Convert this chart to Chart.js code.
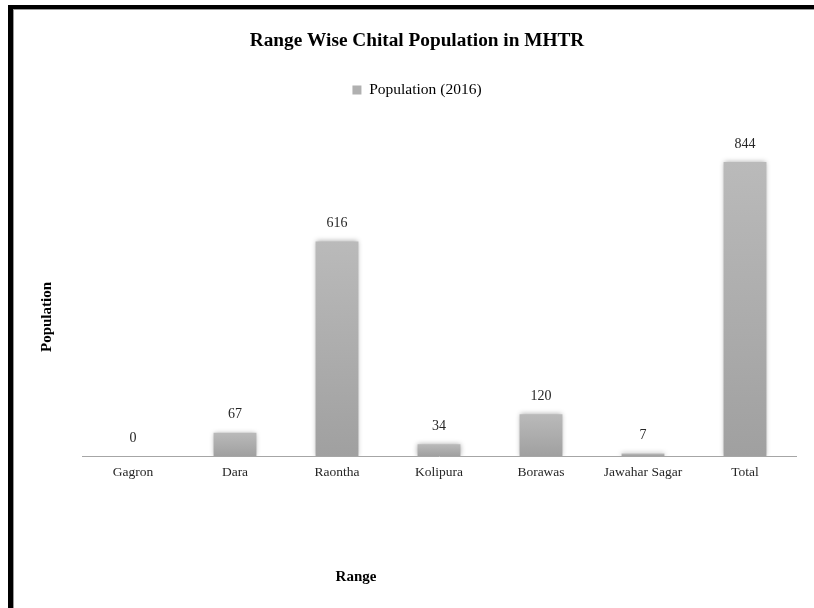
<!DOCTYPE html>
<html>
<head>
<meta charset="utf-8">
<script src="https://cdn.jsdelivr.net/npm/chart.js@4.4.1/dist/chart.umd.min.js"></script>
<style>
  html, body { margin: 0; padding: 0; background: #fff; }
  #wrap { position: relative; width: 814px; height: 608px; }
</style>
</head>
<body>
<div id="wrap"><canvas id="chart" width="814" height="608"></canvas></div>
<script>
const ranges = ["Gagron", "Dara", "Raontha", "Kolipura", "Borawas", "Jawahar Sagar", "Total"];
const population2016 = [0, 67, 616, 34, 120, 7, 844];
const seriesLabel = "Population (2016)";
const chartTitle = "Range Wise Chital Population in MHTR";
const xTitle = "Range";
const yTitle = "Population";

const SERIF = "'Liberation Serif', 'Times New Roman', serif";

function barGradient(context) {
  const chart = context.chart;
  const area = chart.chartArea;
  if (!area || context.type !== "data") return "#adadad";
  const yScale = chart.scales.y;
  const top = yScale.getPixelForValue(context.raw);
  const bottom = yScale.getPixelForValue(0);
  if (bottom - top < 1) return "#adadad";
  const g = chart.ctx.createLinearGradient(0, top, 0, bottom);
  g.addColorStop(0, "#bababa");
  g.addColorStop(1, "#a0a0a0");
  return g;
}

// soft shadow around the bars
const barShadow = {
  id: "barShadow",
  beforeDatasetsDraw(chart) {
    const c = chart.ctx;
    c.save();
    c.shadowColor = "rgba(0,0,0,0.35)";
    c.shadowBlur = 5;
  },
  afterDatasetsDraw(chart) {
    chart.ctx.restore();
  },
};

// value labels over the bars
const valueLabels = {
  id: "valueLabels",
  afterDatasetsDraw(chart) {
    const c = chart.ctx;
    const meta = chart.getDatasetMeta(0);
    c.save();
    c.font = "14px " + SERIF;
    c.fillStyle = "#262626";
    c.textAlign = "center";
    c.textBaseline = "middle";
    meta.data.forEach((bar, i) => {
      c.fillText(String(population2016[i]), bar.x, bar.y - 18);
    });
    c.restore();
  },
};

// axis titles and the page frame
const frameAndTitles = {
  id: "frameAndTitles",
  afterDraw(chart) {
    const c = chart.ctx;
    c.save();
    c.fillStyle = "#000";
    c.font = "bold 15px " + SERIF;
    c.textAlign = "center";
    c.textBaseline = "middle";
    c.fillText(xTitle, 356, 577);
    c.translate(47, 317);
    c.rotate(-Math.PI / 2);
    c.fillText(yTitle, 0, 0);
    c.restore();

    c.save();
    c.fillStyle = "#000";
    c.fillRect(8, 5, 5, 603);
    c.fillRect(8, 5, 806, 4);
    c.fillStyle = "#9a9a9a";
    c.fillRect(13, 9, 1, 599);
    c.fillRect(13, 9, 801, 1);
    c.restore();
  },
};

new Chart(document.getElementById("chart"), {
  type: "bar",
  data: {
    labels: ranges,
    datasets: [{
      label: seriesLabel,
      data: population2016,
      backgroundColor: barGradient,
      borderWidth: 0,
      barPercentage: 0.42,
      categoryPercentage: 1,
    }],
  },
  options: {
    responsive: false,
    animation: false,
    layout: { padding: { left: 38, right: 18, top: 0, bottom: 0 } },
    plugins: {
      title: {
        display: true,
        text: chartTitle,
        color: "#000",
        font: { family: SERIF, size: 19.3, weight: "bold" },
        padding: { top: 29, bottom: 20 },
      },
      legend: {
        display: true,
        labels: {
          font: { family: SERIF, size: 15.5 },
          color: "#262626",
          boxWidth: 9,
          boxHeight: 9,
          padding: 10,
          generateLabels: () => [{
            text: seriesLabel,
            fillStyle: "#b0b0b0",
            strokeStyle: "#b0b0b0",
            lineWidth: 0,
            datasetIndex: 0,
          }],
        },
      },
      tooltip: { enabled: false },
    },
    scales: {
      x: {
        grid: { display: false, drawTicks: false },
        border: { display: true, color: "#a6a6a6", width: 1 },
        ticks: {
          color: "#262626",
          font: { family: SERIF, size: 13.5 },
          padding: 8,
          maxRotation: 0,
          autoSkip: false,
        },
        afterFit(scale) { scale.height = 152; },
      },
      y: {
        display: true,
        min: 0,
        max: 1000,
        grid: { display: false, drawTicks: false },
        border: { display: false },
        ticks: { display: false },
        afterFit(scale) { scale.width = 44; },
      },
    },
  },
  plugins: [barShadow, valueLabels, frameAndTitles],
});
</script>
</body>
</html>
